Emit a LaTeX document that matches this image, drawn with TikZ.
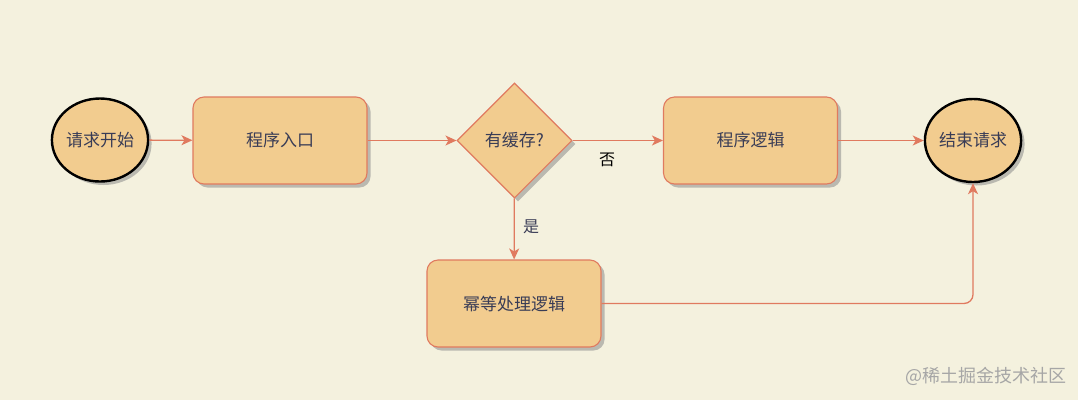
\documentclass[tikz,border=0pt]{standalone}
\usepackage{fontspec}
\setmainfont{Noto Sans CJK SC}
\usepackage{tikz}
\usetikzlibrary{positioning, arrows.meta, shapes.geometric, shadows}
\definecolor{paper}{HTML}{F4F1DE}
\definecolor{boxfill}{HTML}{F2CC8F}
\definecolor{boxline}{HTML}{E07A5F}
\definecolor{ink}{HTML}{393C56}

\begin{document}
\begin{tikzpicture}[x=1pt, y=-1pt,
        font=\fontsize{17}{20}\selectfont, text=ink,
        shade/.style={drop shadow={shadow xshift=3.5pt, shadow yshift=-3.5pt, fill=black!45, opacity=0.55}},
        terminal/.style={ellipse, draw=black, line width=2.4pt, fill=boxfill, inner sep=0pt,
            minimum width=92pt, minimum height=83pt, shade},
        process/.style={rectangle, rounded corners=11pt, draw=boxline, line width=1.1pt, fill=boxfill,
            minimum width=174pt, minimum height=87pt, shade},
        decision/.style={diamond, draw=boxline, line width=1.1pt, fill=boxfill, inner sep=0pt,
            minimum width=115pt, minimum height=115pt, shade},
        flow/.style={draw=boxline, line width=1.3pt, -{Stealth[length=11pt, width=10pt, inset=3pt]}}]
        \fill [paper] (0, 0) rectangle (1078, 400);
        \useasboundingbox (0, 0) rectangle (1078, 400);

        \node (start) [terminal] at (100, 140) {请求开始};
        \node (entry) [process] at (280, 140.5) {程序入口};
        \node (cache) [decision] at (514.5, 140.5) {有缓存?};
        \node (logic) [process] at (750.5, 140.5) {程序逻辑};
        \node (stop) [terminal] at (973, 140.5) {结束请求};
        \node (idem) [process] at (514, 303.5) {幂等处理逻辑};

        \draw [flow] (start) -- (entry);
        \draw [flow] (entry) -- (cache);
        \draw [flow] (cache) -- (logic);
        \draw [flow] (logic) -- (stop);
        \draw [flow] (cache) -- (idem);
        \draw [flow, rounded corners=9pt] (idem.east) -| (stop.south);

        \node (no) [text=black, font=\fontsize{16}{18}\selectfont] at (607, 160) {否};
        \node (yes) [font=\fontsize{16}{18}\selectfont] at (531, 227) {是};

        \node (mark) [text=black!35, font=\fontsize{18}{20}\selectfont] at (986, 376) {@稀土掘金技术社区};
    \end{tikzpicture}
\end{document}
